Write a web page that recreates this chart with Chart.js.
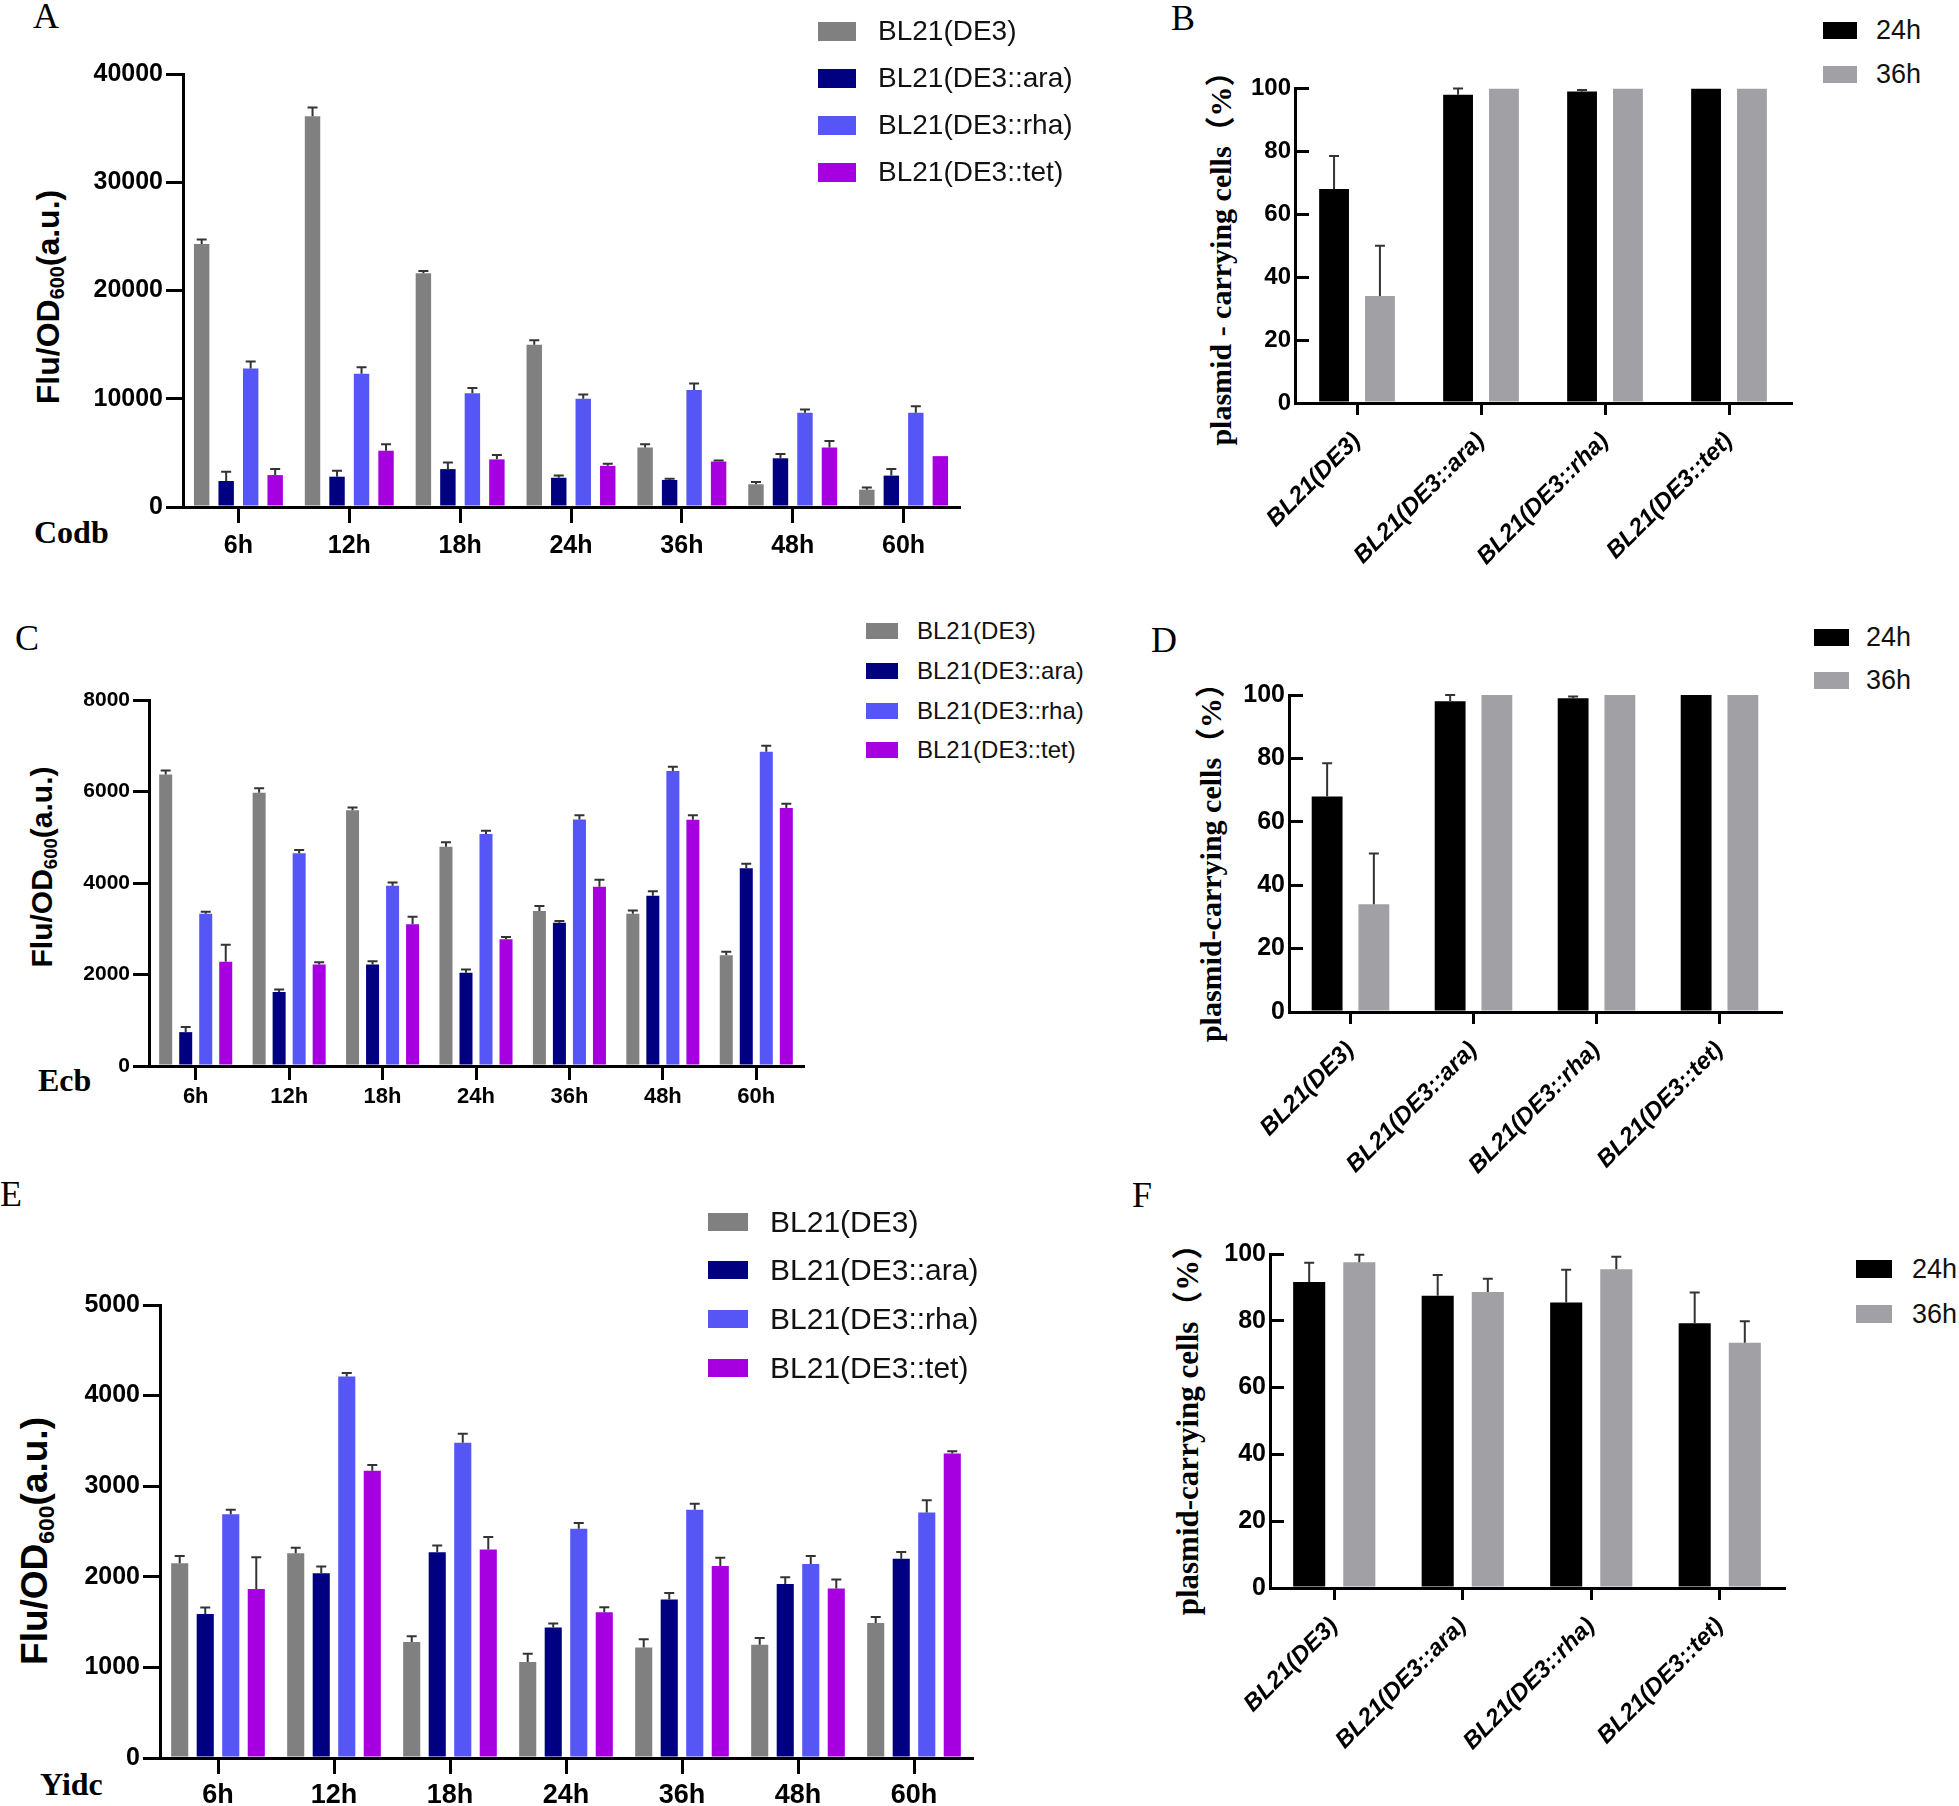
<!DOCTYPE html>
<html>
<head>
<meta charset="utf-8">
<script src="https://cdn.jsdelivr.net/npm/chart.js@4.4.0/dist/chart.umd.min.js"></script>
<style>
  body { margin: 0; background: #fff; width: 1959px; height: 1806px; position: relative; overflow: hidden; font-family: "Liberation Sans", Arial, sans-serif; }
  .wrap { position: absolute; }
  .t { position: absolute; white-space: nowrap; line-height: 1; color: #000; }
  .serif { font-family: "Liberation Serif", "Times New Roman", serif; }
  .letter { font-size: 36px; }
  .gene { font-size: 32px; font-weight: bold; }
  .ytitle { font-weight: bold; transform: translate(-50%, -50%) rotate(-90deg); }
  .ytitle sub { font-size: 0.62em; vertical-align: -0.28em; }
  .ptitle { font-family: "Liberation Serif", "Noto Sans CJK SC", serif; font-weight: bold; transform: translate(-50%, -50%) rotate(-90deg); }
  .sw { position: absolute; }
  .lg { position: absolute; white-space: nowrap; line-height: 1; color: #111; }
</style>
</head>
<body>

<div class="t serif letter" style="left:33px;top:-2px">A</div>
<div class="t serif letter" style="left:1171px;top:0px">B</div>
<div class="t serif letter" style="left:15px;top:620px">C</div>
<div class="t serif letter" style="left:1151px;top:622px">D</div>
<div class="t serif letter" style="left:0px;top:1176px">E</div>
<div class="t serif letter" style="left:1132px;top:1177px">F</div>

<div class="t serif gene" style="left:34px;top:516px">Codb</div>
<div class="t serif gene" style="left:38px;top:1064px">Ecb</div>
<div class="t serif gene" style="left:40px;top:1768px">Yidc</div>

<div class="t ytitle" style="left:50px;top:297px;font-size:32px">Flu/OD<sub>600</sub>(a.u.)</div>
<div class="t ytitle" style="left:44px;top:867px;font-size:30px">Flu/OD<sub>600</sub>(a.u.)</div>
<div class="t ytitle" style="left:37px;top:1541px;font-size:37px">Flu/OD<sub>600</sub>(a.u.)</div>

<div class="t ptitle" style="left:1221px;top:251px;font-size:30px">plasmid - carrying cells（%）</div>
<div class="t ptitle" style="left:1211px;top:855px;font-size:30px">plasmid-carrying cells（%）</div>
<div class="t ptitle" style="left:1187px;top:1422px;font-size:31px">plasmid-carrying cells（%）</div>

<script>
const hours = ['6h', '12h', '18h', '24h', '36h', '48h', '60h'];
const strains = ['BL21(DE3)', 'BL21(DE3::ara)', 'BL21(DE3::rha)', 'BL21(DE3::tet)'];
const strainColors = ['#808080', '#000080', '#5656f7', '#a600e0'];
const times = ['24h', '36h'];
const timeColors = ['#000000', '#a1a1a5'];

// A - Codb
const codbDE3 = [24300, 36100, 21600, 15000, 5500, 2100, 1600];
const codbDE3Err = [400, 800, 200, 400, 300, 200, 200];
const codbAra = [2400, 2800, 3500, 2700, 2500, 4500, 2900];
const codbAraErr = [850, 550, 600, 200, 100, 400, 600];
const codbRha = [12800, 12300, 10500, 10000, 10800, 8700, 8700];
const codbRhaErr = [650, 600, 500, 400, 600, 300, 600];
const codbTet = [2950, 5200, 4400, 3800, 4200, 5500, 4700];
const codbTetErr = [550, 600, 400, 200, 100, 600, 0];

// C - Ecb
const ecbDE3 = [6370, 5970, 5590, 4790, 3390, 3330, 2420];
const ecbDE3Err = [90, 100, 60, 100, 110, 70, 80];
const ecbAra = [740, 1620, 2220, 2040, 3130, 3720, 4320];
const ecbAraErr = [110, 50, 70, 70, 40, 100, 100];
const ecbRha = [3330, 4650, 3940, 5070, 5390, 6450, 6870];
const ecbRhaErr = [40, 70, 70, 70, 90, 90, 130];
const ecbTet = [2280, 2220, 3100, 2770, 3920, 5380, 5640];
const ecbTetErr = [370, 50, 160, 50, 150, 100, 90];

// E - Yidc
const yidcDE3 = [2150, 2260, 1280, 1060, 1220, 1250, 1490];
const yidcDE3Err = [80, 60, 65, 90, 90, 75, 65];
const yidcAra = [1590, 2040, 2270, 1440, 1750, 1920, 2200];
const yidcAraErr = [70, 75, 75, 45, 70, 75, 75];
const yidcRha = [2690, 4210, 3480, 2530, 2740, 2140, 2710];
const yidcRhaErr = [50, 40, 100, 65, 65, 90, 135];
const yidcTet = [1865, 3170, 2300, 1610, 2120, 1870, 3360];
const yidcTetErr = [350, 65, 140, 55, 90, 100, 25];

// B / D - plasmid-carrying cells
const keep24 = [68, 98, 99, 100];
const keep24Err = [10.5, 2, 0.5, 0];
const keep36 = [34, 100, 100, 100];
const keep36Err = [16, 0, 0, 0];

// F - plasmid-carrying cells
const yidcKeep24 = [91.6, 87.5, 85.5, 79.3];
const yidcKeep24Err = [5.8, 6.2, 9.8, 9.2];
const yidcKeep36 = [97.5, 88.6, 95.4, 73.4];
const yidcKeep36Err = [2.3, 4.0, 3.8, 6.5];

// upper error bars (mean + SD), drawn from the bar top
const errorBars = {
  id: 'errorBars',
  afterDatasetsDraw(chart) {
    const ctx = chart.ctx;
    const y = chart.scales.y;
    ctx.save();
    ctx.strokeStyle = '#333';
    ctx.lineWidth = 2;
    chart.data.datasets.forEach((ds, i) => {
      chart.getDatasetMeta(i).data.forEach((bar, j) => {
        const e = ds.errors[j];
        if (!e) return;
        const top = y.getPixelForValue(ds.data[j] + e);
        ctx.beginPath();
        ctx.moveTo(bar.x, bar.y);
        ctx.lineTo(bar.x, top);
        ctx.moveTo(bar.x - 5, top);
        ctx.lineTo(bar.x + 5, top);
        ctx.stroke();
      });
    });
    ctx.restore();
  }
};

function barPanel(o) {
  const pad = { left: 12, top: 24, right: 30, bottom: 12 };
  const wrap = document.createElement('div');
  wrap.className = 'wrap';
  wrap.style.left = (o.area.l - o.yW - pad.left) + 'px';
  wrap.style.top = (o.area.t - pad.top) + 'px';
  wrap.style.width = (o.area.r - o.area.l + o.yW + pad.left + pad.right) + 'px';
  wrap.style.height = (o.area.b - o.area.t + o.xH + pad.top + pad.bottom) + 'px';
  const cv = document.createElement('canvas');
  wrap.appendChild(cv);
  document.body.appendChild(wrap);

  return new Chart(cv, {
    type: 'bar',
    data: {
      labels: o.labels,
      datasets: o.values.map((v, i) => ({
        label: o.names[i],
        data: v,
        errors: o.errors[i],
        backgroundColor: o.colors[i],
        borderWidth: 0,
        categoryPercentage: o.cat,
        barPercentage: o.bar
      }))
    },
    options: {
      responsive: true,
      maintainAspectRatio: false,
      animation: false,
      layout: { padding: pad },
      plugins: { legend: { display: false }, tooltip: { enabled: false } },
      scales: {
        x: {
          z: 1,
          grid: { offset: false, drawOnChartArea: false, color: '#000', lineWidth: 3, tickLength: o.xTick },
          border: { color: '#000', width: 3 },
          ticks: { color: '#000', font: o.xFont, padding: o.xPad, autoSkip: false, maxRotation: o.rot, minRotation: o.rot },
          afterFit: s => { s.height = o.xH; }
        },
        y: {
          z: 1,
          min: 0,
          max: o.max,
          grid: { drawOnChartArea: false, color: '#000', lineWidth: 3, tickLength: o.yTick },
          border: { color: '#000', width: 3 },
          ticks: { color: '#000', stepSize: o.step, font: o.yFont, padding: o.yPad, callback: v => String(v) },
          afterFit: s => { s.width = o.yW; }
        }
      }
    },
    plugins: [errorBars]
  });
}

function legend(names, colors, o) {
  names.forEach((n, i) => {
    const cy = o.rows[i];
    const sw = document.createElement('div');
    sw.className = 'sw';
    sw.style.cssText = `left:${o.x}px;top:${cy - o.h / 2}px;width:${o.w}px;height:${o.h}px;background:${colors[i]}`;
    document.body.appendChild(sw);
    const tx = document.createElement('div');
    tx.className = 'lg';
    tx.style.cssText = `left:${o.tx}px;top:${cy - o.fs / 2}px;font-size:${o.fs}px`;
    tx.textContent = n;
    document.body.appendChild(tx);
  });
}

const bold = size => ({ family: 'Liberation Sans', size: size, weight: 'bold' });
const boldItalic = size => ({ family: 'Liberation Sans', size: size, weight: 'bold', style: 'italic' });

// A
barPanel({
  area: { l: 183, t: 74, r: 959, b: 507 }, yW: 100, xH: 60,
  labels: hours, names: strains, colors: strainColors,
  values: [codbDE3, codbAra, codbRha, codbTet],
  errors: [codbDE3Err, codbAraErr, codbRhaErr, codbTetErr],
  max: 40000, step: 10000, cat: 0.884, bar: 0.63,
  yFont: bold(25), yTick: 17, yPad: 3, xFont: bold(25), xTick: 16, xPad: 8, rot: 0
});
// C
barPanel({
  area: { l: 149, t: 700, r: 803, b: 1066 }, yW: 100, xH: 55,
  labels: hours, names: strains, colors: strainColors,
  values: [ecbDE3, ecbAra, ecbRha, ecbTet],
  errors: [ecbDE3Err, ecbAraErr, ecbRhaErr, ecbTetErr],
  max: 8000, step: 2000, cat: 0.857, bar: 0.65,
  yFont: bold(21), yTick: 16, yPad: 3, xFont: bold(22), xTick: 14, xPad: 4, rot: 0
});
// E
barPanel({
  area: { l: 160, t: 1305, r: 972, b: 1758 }, yW: 100, xH: 48,
  labels: hours, names: strains, colors: strainColors,
  values: [yidcDE3, yidcAra, yidcRha, yidcTet],
  errors: [yidcDE3Err, yidcAraErr, yidcRhaErr, yidcTetErr],
  max: 5000, step: 1000, cat: 0.88, bar: 0.67,
  yFont: bold(25), yTick: 17, yPad: 3, xFont: bold(27), xTick: 16, xPad: 5, rot: 0
});
// B
barPanel({
  area: { l: 1295, t: 80, r: 1791, b: 403 }, yW: 90, xH: 200,
  labels: strains, names: times, colors: timeColors,
  values: [keep24, keep36], errors: [keep24Err, keep36Err],
  max: 100, step: 20, cat: 0.74, bar: 0.65,
  yFont: bold(24), yTick: -14, yPad: 18, xFont: boldItalic(24), xTick: 12, xPad: 12, rot: 45
});
// D
barPanel({
  area: { l: 1289, t: 686, r: 1781, b: 1012 }, yW: 90, xH: 200,
  labels: strains, names: times, colors: timeColors,
  values: [keep24, keep36], errors: [keep24Err, keep36Err],
  max: 100, step: 20, cat: 0.76, bar: 0.66,
  yFont: bold(25), yTick: -14, yPad: 18, xFont: boldItalic(24), xTick: 12, xPad: 12, rot: 45
});
// F
barPanel({
  area: { l: 1270, t: 1245, r: 1784, b: 1588 }, yW: 90, xH: 200,
  labels: strains, names: times, colors: timeColors,
  values: [yidcKeep24, yidcKeep36], errors: [yidcKeep24Err, yidcKeep36Err],
  max: 100, step: 20, cat: 0.78, bar: 0.64,
  yFont: bold(25), yTick: -14, yPad: 18, xFont: boldItalic(24), xTick: 12, xPad: 12, rot: 45
});

legend(strains, strainColors, { x: 818, w: 38, h: 19, tx: 878, fs: 28, rows: [31, 78, 125, 172] });
legend(strains, strainColors, { x: 866, w: 32, h: 16, tx: 917, fs: 24, rows: [631, 671, 711, 750] });
legend(strains, strainColors, { x: 708, w: 40, h: 18, tx: 770, fs: 30, rows: [1222, 1270, 1319, 1368] });
legend(times, timeColors, { x: 1823, w: 34, h: 17, tx: 1876, fs: 27, rows: [30, 74] });
legend(times, timeColors, { x: 1814, w: 35, h: 17, tx: 1866, fs: 27, rows: [637, 680] });
legend(times, timeColors, { x: 1856, w: 36, h: 18, tx: 1912, fs: 27, rows: [1269, 1314] });
</script>
</body>
</html>
